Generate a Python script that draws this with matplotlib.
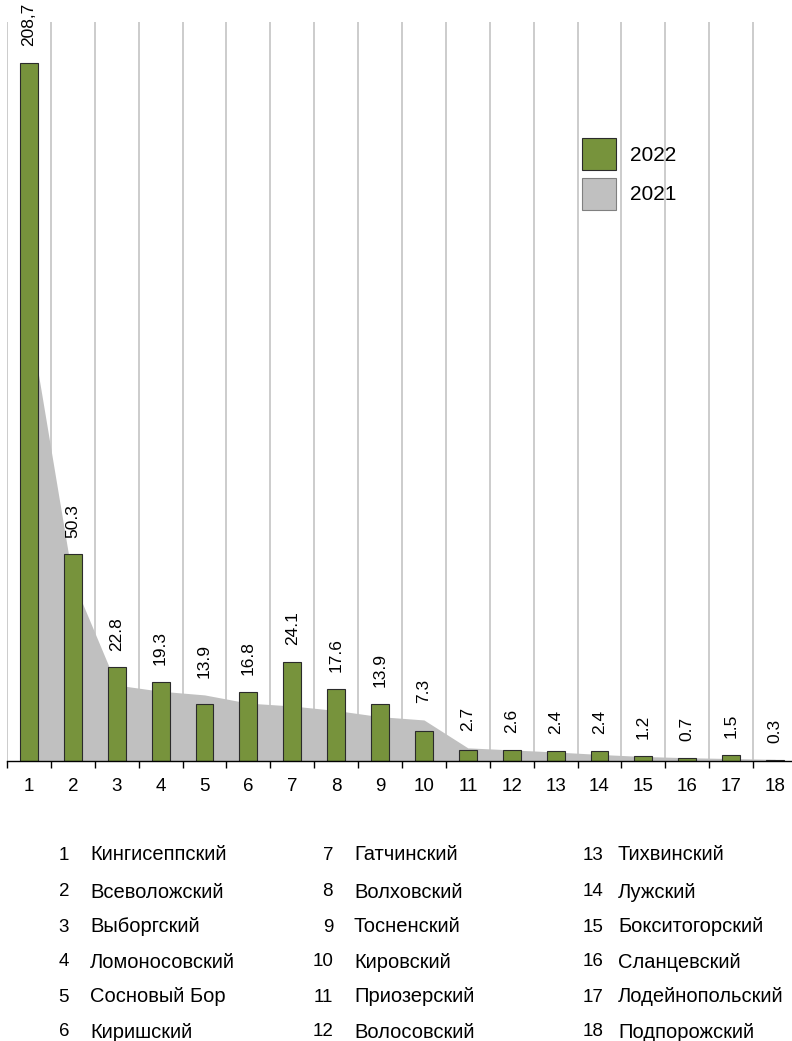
import numpy as np
import matplotlib
matplotlib.use('Agg')
import matplotlib.pyplot as plt
from matplotlib.patches import Patch

plt.rcParams['font.family'] = ['Liberation Sans', 'DejaVu Sans']

# Данные
categories = list(range(1, 19))
values_2022 = [208.7, 50.3, 22.8, 19.3, 13.9, 16.8, 24.1, 17.6, 13.9,
               7.3, 2.7, 2.6, 2.4, 2.4, 1.2, 0.7, 1.5, 0.3]
labels_2022 = ['208,7', '50.3', '22.8', '19.3', '13.9', '16.8', '24.1', '17.6', '13.9',
               '7.3', '2.7', '2.6', '2.4', '2.4', '1.2', '0.7', '1.5', '0.3']
values_2021 = [108, 44, 18.5, 17.0, 16.1, 14.1, 13.4, 12.3, 10.8,
               10.0, 3.2, 2.7, 2.2, 1.6, 1.1, 0.8, 0.6, 0.4]
districts = ['Кингисеппский', 'Всеволожский', 'Выборгский', 'Ломоносовский',
             'Сосновый Бор', 'Киришский', 'Гатчинский', 'Волховский',
             'Тосненский', 'Кировский', 'Приозерский', 'Волосовский',
             'Тихвинский', 'Лужский', 'Бокситогорский', 'Сланцевский',
             'Лодейнопольский', 'Подпорожский']

bar_cap = 170  # первый столбец показан укороченным
green = '#77933C'
grey = '#C0C0C0'

x = np.array(categories)
shown = np.minimum(values_2022, bar_cap)

fig = plt.figure(figsize=(7.92, 10.41), dpi=100)
W, H = 792, 1041
ax = fig.add_axes([7 / W, (H - 761) / H, 790 / W, (761 - 22) / H])

ax.fill_between(x, values_2021, 0, color=grey, lw=0, zorder=1)
ax.bar(x, shown, width=0.41, color=green, edgecolor='#2b2b2b', linewidth=0.8, zorder=2)

for xi, b, a, lab in zip(x, shown, values_2021, labels_2022):
    ax.annotate(lab, (xi, max(b, a)), xytext=(0, 12), textcoords='offset points',
                rotation=90, ha='center', va='bottom', fontsize=12.5,
                annotation_clip=False)

ax.set_xlim(0.5, 18.5)
ax.set_ylim(0, 180)
ax.set_xticks(x)
ax.set_xticklabels([str(c) for c in categories], fontsize=13.5)
ax.set_xticks(np.arange(0.5, 19, 1), minor=True)
ax.tick_params(axis='x', which='major', length=0, pad=12)
ax.tick_params(axis='x', which='minor', length=5, width=1, color='black', direction='out')
ax.set_yticks([])
ax.set_axisbelow(True)
ax.xaxis.grid(True, which='minor', color='#C8C8C8', linewidth=1.3)
ax.xaxis.grid(False, which='major')
for s in ['top', 'left', 'right']:
    ax.spines[s].set_visible(False)
ax.spines['bottom'].set_linewidth(1)

handles = [Patch(facecolor=green, edgecolor='#2b2b2b', linewidth=0.8),
           Patch(facecolor=grey, edgecolor='#808080', linewidth=0.8)]
fig.legend(handles, ['2022', '2021'], loc='upper left',
           bbox_to_anchor=(582 / W, 1 - 138 / H), frameon=False, fontsize=15,
           borderpad=0, borderaxespad=0, handlelength=1.63, handleheight=1.98,
           labelspacing=0.38, handletextpad=0.67)

# Подписи районов внизу
rows_y = [855, 892, 927, 962, 997, 1032]
cols = [(69, 90), (333, 354), (603, 618)]
for i, name in enumerate(districts):
    c, r = divmod(i, 6)
    nx, tx = cols[c]
    yy = 1 - rows_y[r] / H
    fig.text(nx / W, yy, str(categories[i]), ha='right', va='center', fontsize=13.5)
    fig.text(tx / W, yy, name, ha='left', va='center', fontsize=14.5)

plt.savefig('out.png', dpi=100)
